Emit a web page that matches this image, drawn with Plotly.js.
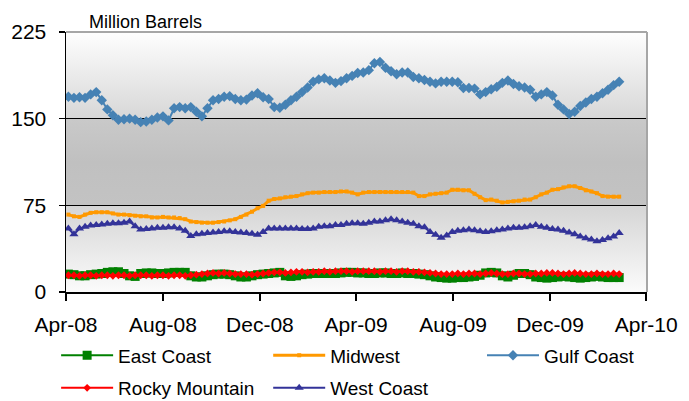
<!DOCTYPE html>
<html>
<head>
<meta charset="utf-8">
<script src="https://cdn.plot.ly/plotly-3.0.1.min.js"></script>
<style>html,body{margin:0;padding:0;background:#fff;}#chart{width:689px;height:401px;}</style>
</head>
<body>
<div id="chart"></div>
<script>
// Weekly observations starting 4 Apr 2008
const startDate = '2008-04-04';
const seriesNames = ['East Coast', 'Midwest', 'Gulf Coast', 'Rocky Mountain', 'West Coast'];

const eastCoast = [
  15.5,15,14,14,15,15.5,16,17,17.5,17.5,
  16,14,13.5,16,16.5,16.5,16,16,16.5,17,
  17,17,14,13,13,14,15,15.5,15.5,15,
  14,13,13,14,15,15.5,16,16.5,17,14,
  13.5,14,15,15.5,16,16,16,16,16,16.5,
  17,17,16.5,16.5,16,16,16.5,16.5,16,16,
  16.5,16,16,15.5,15,14,13,12.5,12,12,
  12.5,12.5,13,13.5,14.5,16.5,17,16.5,14,13,
  14.5,16,16,15,13,12.5,12,12.5,13,13.5,
  13,12.5,12,12.5,13,13.5,13,12.5,12.5,12.5
];
const midwest = [
  67,65.5,65,67,68.5,69,69,69,68,67,
  67,66.5,66,65.5,65.5,64.5,64.5,65,64.5,64.5,
  64,63,61,60.5,60,60,60,60.5,61,62,
  63,65,67,69.5,72.5,74.5,79,80.5,81,82,
  82.5,83,84.5,85.5,86,86,86.5,86.5,86.5,87,
  87,86,84.5,86,86.5,86.5,86.5,86.5,86.5,86.5,
  86.5,86.5,86,83,83,84.5,85,85.5,86,88.5,
  88.5,88,88,85,82,79.5,80,79,77.5,78,
  78.5,79,80,80,82,84.5,86,88.5,89,90.5,
  91.5,91.5,90,88,87,85.5,83,82.5,82.5,82.5
];
const gulfCoast = [
  169,168,168.5,168,171,173,166,158,153,149,
  149.5,150,149,147,147.5,149,151,152,148.5,159,
  160,159,160,156,152,159,166,167,169,169.5,
  167,166,166.5,170,172,168.5,167,160,159.5,162,
  166,169,173,177,182,184,185,183,181,182.5,
  185,187,189.5,190,192,198,199,194,191,188.5,
  190,190,186,185,183.5,182,180.5,182,182,182,
  181.5,176.5,176.5,176,171,173,175.5,177.5,181,183,
  180,178,177,175,169,171,173,170,162,158,
  154,156,161,164,167,169,172,175,179,182
];
const rockyMountain = [
  14.5,14.5,14,14.5,14.5,14,14.5,14.5,14,14.5,
  14.5,14,14.5,14.5,14.5,14,14.5,14.5,14,14.5,
  14.5,14,14.5,15,15.5,16,16.5,16,16.5,16,
  15.5,15.5,15.5,15,15.5,16,16.5,17,17,16.5,
  17,17.5,17.5,17,17.5,17.5,18,17.5,18,18,
  18,17.5,18,18,18,18,17.5,18,18,17.5,
  18,18,17.5,17.5,17,16.5,16,15.5,15.5,15.5,
  16,15.5,16,16,15.5,16,16.5,16,15.5,15.5,
  16,16,15.5,15.5,16,16,16.5,16.5,16,15.5,
  16,16.5,16,15.5,15.5,16,15.5,15.5,16,15.5
];
const westCoast = [
  55,50,55,56.5,57.5,58,58.5,59,59.5,59.5,
  60,61,57,54,54.5,55,55.5,55.5,56,56,
  55,53,48.5,50,50.5,51,51.5,52,52.5,52.5,
  52,51.5,51,50.5,49.5,52,55,55,55,55,
  55,55,54.5,54.5,55,56.5,57,57,58,58,
  59,59.5,59.5,59,60,61,61,62,63,62,
  61,60,59,57,56,52,49.5,47,49,52,
  53,53.5,54,53.5,52.5,52,52.5,53.5,54,55,
  55.5,55.5,56,57,58,56.5,55.5,54.5,54,53,
  51.5,50,48,46.5,45.5,44,45,46.5,48,51
];
const yTickVals = [0, 75, 150, 225];

// weekly date categories
const weekDates = [];
(function(){
  const d0 = new Date(startDate + 'T00:00:00Z');
  for (let i = 0; i < gulfCoast.length; i++) {
    const d = new Date(d0.getTime() + i * 7 * 86400000);
    weekDates.push(d.toISOString().slice(0, 10));
  }
})();

const styles = [
  {color:'#008000', symbol:'square', size:9, width:2, legend:'legend'},
  {color:'#FF9900', symbol:'square', size:4, width:3, legend:'legend2'},
  {color:'#4682B4', symbol:'diamond', size:8, width:2, legend:'legend3'},
  {color:'#FF0000', symbol:'diamond', size:6, width:2, legend:'legend4'},
  {color:'#333399', symbol:'triangle-up', size:8, width:2, legend:'legend5'}
];
const values = [eastCoast, midwest, gulfCoast, rockyMountain, westCoast];

const traces = seriesNames.map((name, k) => ({
  type:'scatter', mode:'lines+markers', name:name,
  x: weekDates, y: values[k],
  line:{color:styles[k].color, width:styles[k].width},
  marker:{color:styles[k].color, symbol:styles[k].symbol, size:styles[k].size, line:{width:0}},
  legend: styles[k].legend,
  hoverinfo:'skip'
}));

const bgSvg = '<svg xmlns="http://www.w3.org/2000/svg" width="10" height="300" viewBox="0 0 10 300" preserveAspectRatio="none">' +
  '<defs><linearGradient id="g" x1="0" y1="0" x2="0" y2="1">' +
  '<stop offset="0" stop-color="#fefefe"/>' +
  '<stop offset="0.333" stop-color="#d7d7d7"/>' +
  '<stop offset="0.336" stop-color="#c9c9c9"/>' +
  '<stop offset="0.5" stop-color="#c0c0c0"/>' +
  '<stop offset="0.664" stop-color="#c3c3c3"/>' +
  '<stop offset="0.668" stop-color="#d5d5d5"/>' +
  '<stop offset="1" stop-color="#fbfbfb"/>' +
  '</linearGradient></defs><rect x="0" y="0" width="10" height="300" fill="url(#g)"/></svg>';
const bgUri = 'data:image/svg+xml;base64,' + btoa(bgSvg);

function legendAt(x, y) {
  return {x:x, y:y, xanchor:'left', yanchor:'middle', orientation:'h',
    bgcolor:'rgba(0,0,0,0)', borderwidth:0, itemwidth:52,
    font:{family:'Liberation Sans, Arial, sans-serif', size:19, color:'#000'}};
}

const layout = {
  width:689, height:401,
  margin:{l:66, r:42, t:32, b:109, pad:0, autoexpand:false},
  paper_bgcolor:'#ffffff', plot_bgcolor:'rgba(0,0,0,0)',
  font:{family:'Liberation Sans, Arial, sans-serif', color:'#000'},
  showlegend:true,
  xaxis:{type:'date', range:['2008-04-01','2010-04-02'], tick0:'2008-04-01', dtick:'M4',
    tickformat:'%b-%y', ticks:'outside', ticklen:7, tickwidth:1.5, tickcolor:'#000',
    showline:true, linecolor:'#000', linewidth:1.5, showgrid:false, zeroline:false,
    tickfont:{size:21, color:'#000'}, ticklabelstandoff:6, fixedrange:true, automargin:false},
  yaxis:{range:[0,225], tickvals:yTickVals, ticks:'outside', ticklen:6, tickwidth:1.5, tickcolor:'#000',
    showline:true, linecolor:'#000', linewidth:1.5, showgrid:true, gridcolor:'#000', gridwidth:1.3,
    zeroline:false, tickfont:{size:21, color:'#000'}, ticklabelstandoff:8, fixedrange:true, automargin:false},
  legend: legendAt(-0.017, -0.244),
  legend2: legendAt(0.348, -0.244),
  legend3: legendAt(0.716, -0.244),
  legend4: legendAt(-0.017, -0.369),
  legend5: legendAt(0.348, -0.369),
  annotations:[{text:'Million Barrels', xref:'paper', yref:'paper', x:0.036, y:1.04,
    xanchor:'left', yanchor:'middle', showarrow:false,
    font:{family:'Liberation Sans, Arial, sans-serif', size:18, color:'#000'}}],
  shapes:[
    {type:'line', xref:'paper', yref:'paper', x0:0, x1:1, y0:1, y1:1, line:{color:'#a6a6a6', width:2}},
    {type:'line', xref:'paper', yref:'paper', x0:1, x1:1, y0:0, y1:1, line:{color:'#a6a6a6', width:2}}
  ],
  images:[{source:bgUri, xref:'paper', yref:'paper', x:0, y:1, sizex:1, sizey:1,
    sizing:'stretch', xanchor:'left', yanchor:'top', layer:'below'}]
};

Plotly.newPlot('chart', traces, layout, {staticPlot:true, displayModeBar:false});
</script>
</body>
</html>
